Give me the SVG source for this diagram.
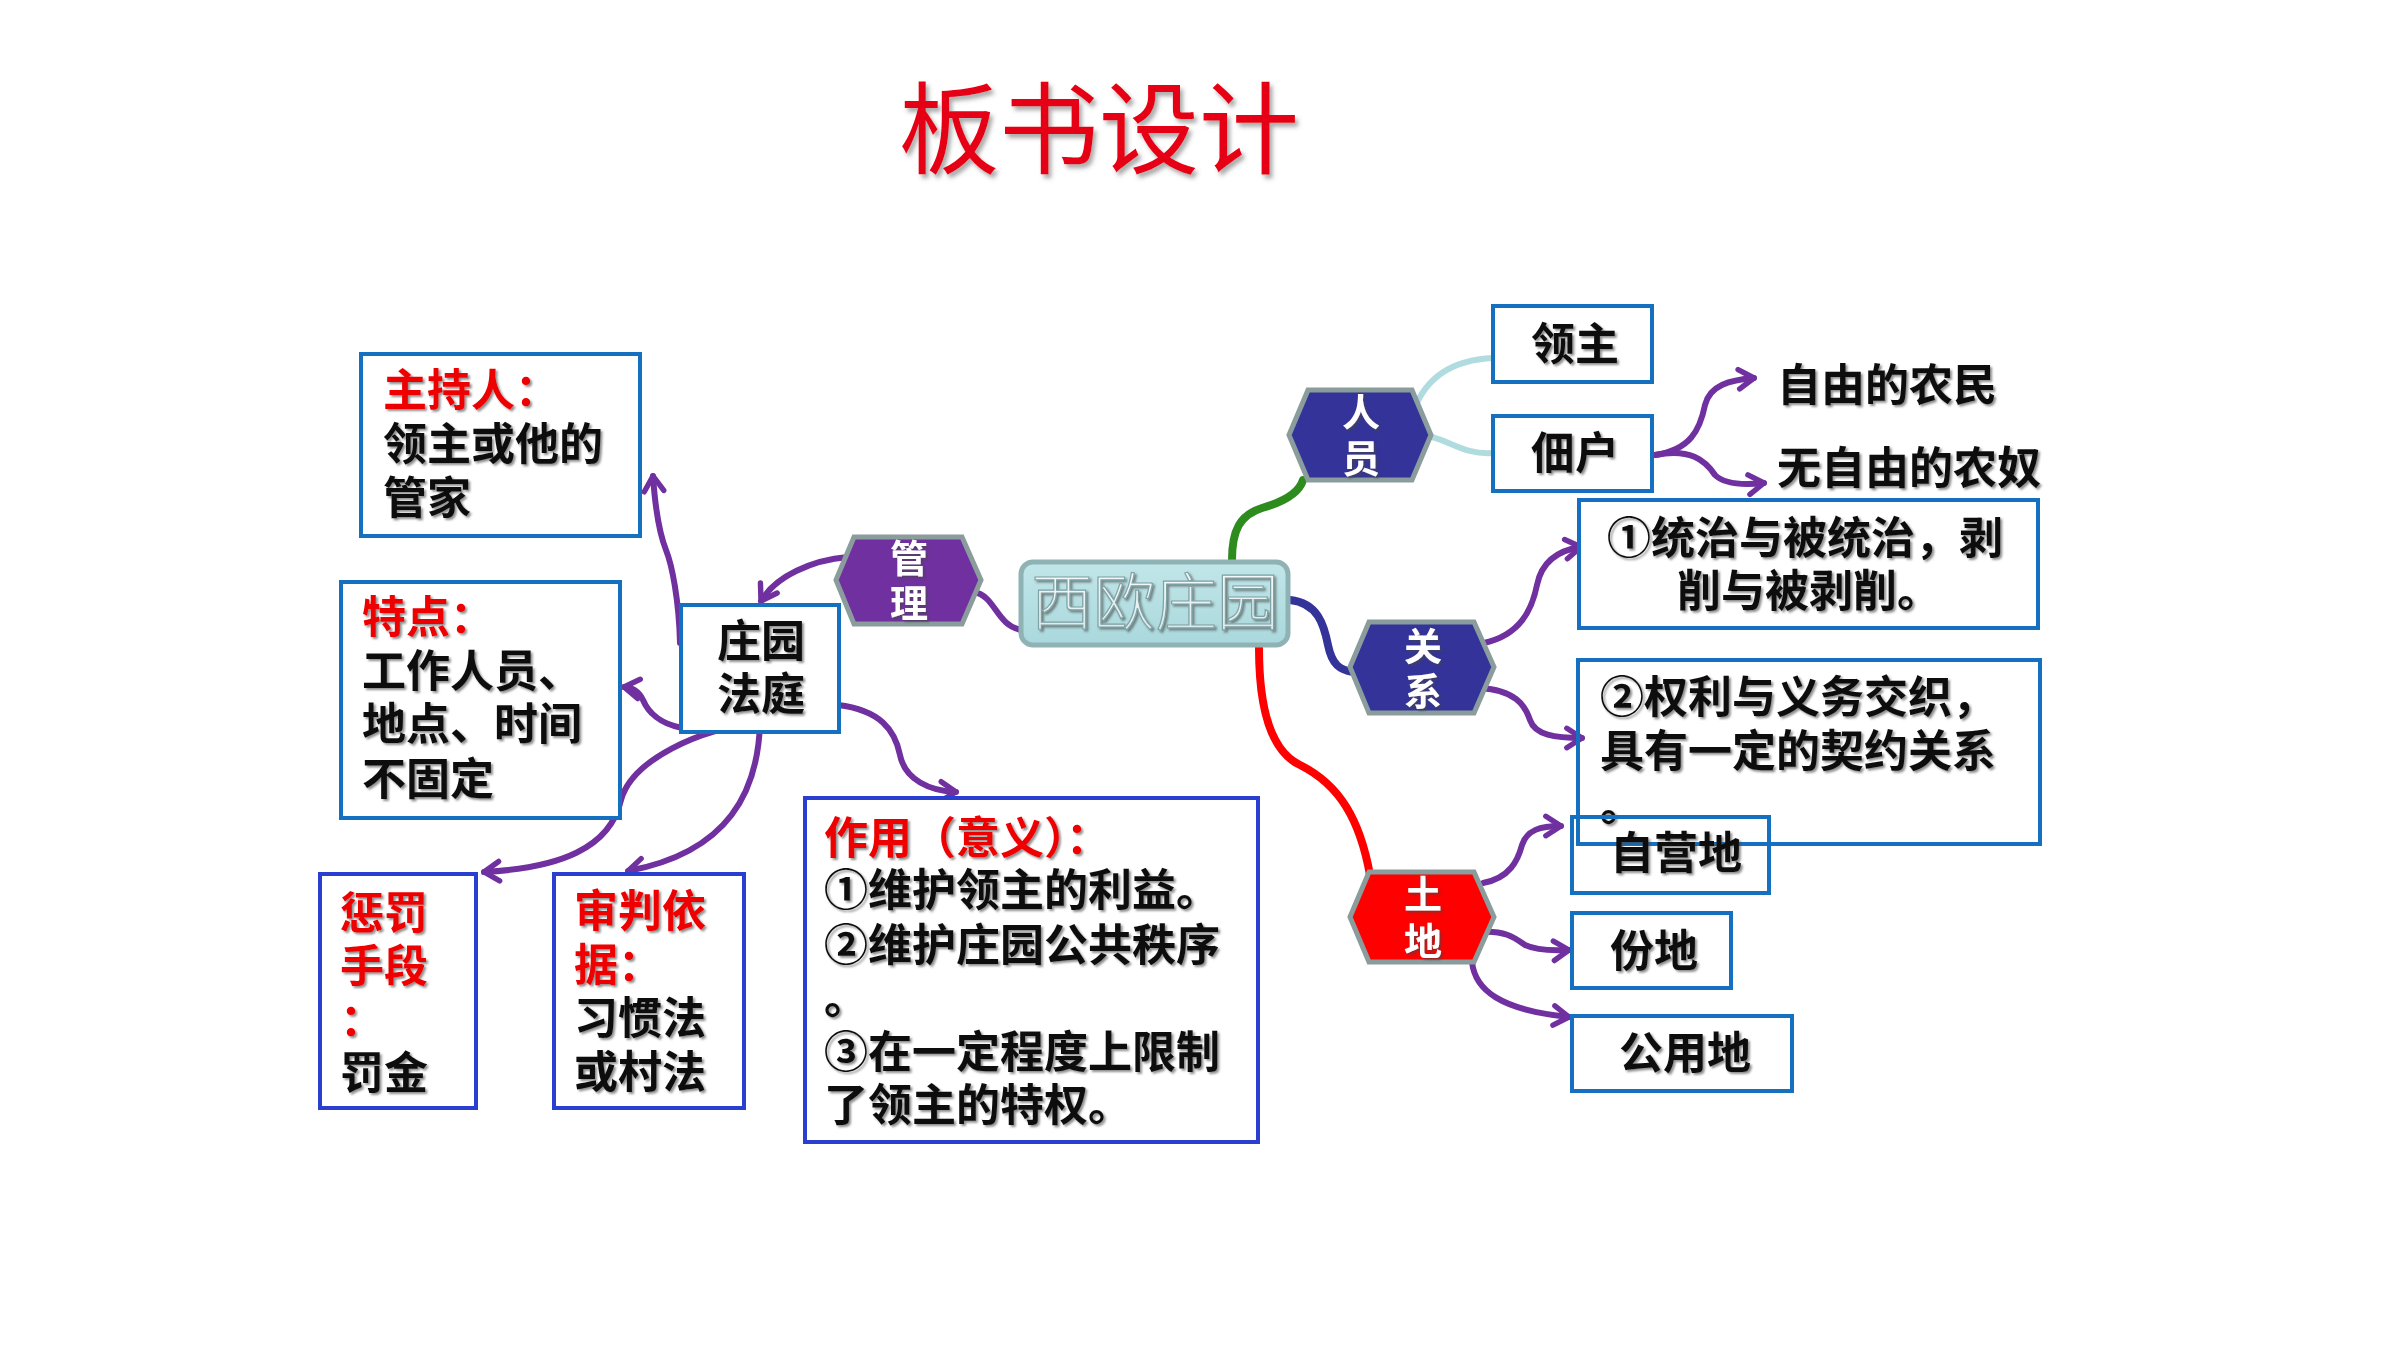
<svg xmlns="http://www.w3.org/2000/svg" width="2400" height="1350" viewBox="0 0 2400 1350">
<defs>
<style>
.t{font-family:"Noto Sans CJK SC","Noto Sans CJK JP",sans-serif;font-size:44px;font-weight:700;fill:#111}
.r{fill:#ee0000}
.box{fill:#fff;stroke:#1670c0;stroke-width:4}
.box2{fill:#fff;stroke:#2a3fd0;stroke-width:4}
.open{fill:none}
.hx{stroke:#8a9c9c;stroke-width:5}
.ht{font-family:"Noto Sans CJK SC",sans-serif;font-size:38px;font-weight:700;fill:#fff;text-anchor:middle}
.c{fill:none;stroke:#7030a0;stroke-width:6;stroke-linecap:round}
.a{marker-end:url(#arr)}
</style>
<filter id="sh" x="-10%" y="-10%" width="130%" height="140%">
<feDropShadow dx="2" dy="2" stdDeviation="1.2" flood-color="#444" flood-opacity="0.6"/>
</filter>
<filter id="tsh" x="-10%" y="-10%" width="130%" height="160%">
<feDropShadow dx="3" dy="4" stdDeviation="2" flood-color="#555" flood-opacity="0.5"/>
</filter>
<marker id="arr" markerUnits="userSpaceOnUse" viewBox="0 0 24 24" markerWidth="26" markerHeight="26" refX="19" refY="12" orient="auto">
<path d="M5,3 L19,12 L5,21" fill="none" stroke="#7030a0" stroke-width="5" stroke-linecap="round" stroke-linejoin="round"/>
</marker>
<linearGradient id="cg" x1="0" y1="0" x2="0" y2="1">
<stop offset="0" stop-color="#c2e6e9"/>
<stop offset="1" stop-color="#a9d8dc"/>
</linearGradient>
<linearGradient id="tg" x1="0" y1="0" x2="0" y2="1">
<stop offset="0" stop-color="#ffffff"/>
<stop offset="1" stop-color="#d6e6e8"/>
</linearGradient>
</defs>
<rect width="2400" height="1350" fill="#fff"/>

<g id="title">
<text x="1099" y="166" text-anchor="middle" font-family="Noto Sans CJK SC, sans-serif" font-size="100" fill="#e60012" filter="url(#tsh)">板书设计</text>
</g>

<g id="connectors">
<path class="c" d="M974,592 C996,596 996,626 1022,630"/>
<path class="c a" d="M848,557 C812,560 776,576 761,601"/>
<path class="c a" d="M680,643 C679,600 672,565 666,550 C658,530 655,505 653,476"/>
<path class="c a" d="M682,728 C660,724 648,712 643,700 C638,690 632,688 624,687"/>
<path class="c a" d="M838,705 C880,710 895,730 900,755 C905,780 930,791 956,792"/>
<path class="c a" d="M760,723 C700,728 632,760 621,800 C610,848 560,868 484,872"/>
<path class="c a" d="M760,723 C758,790 730,852 628,871"/>
<path fill="none" stroke="#2e8b1e" stroke-width="8" stroke-linecap="round" d="M1232,560 C1232,530 1240,515 1262,508 C1290,500 1300,490 1303,480"/>
<path fill="none" stroke="#b0dce0" stroke-width="6" stroke-linecap="round" d="M1414,410 C1425,380 1450,360 1493,358"/>
<path fill="none" stroke="#b0dce0" stroke-width="6" stroke-linecap="round" d="M1421,435 C1450,438 1460,455 1493,453"/>
<path class="c a" d="M1655,455 C1690,450 1700,430 1705,405 C1710,385 1730,380 1754,378"/>
<path class="c a" d="M1655,455 C1690,448 1705,460 1715,475 C1725,485 1745,485 1764,483"/>
<path fill="none" stroke="#333399" stroke-width="8" stroke-linecap="round" d="M1290,600 C1318,603 1324,625 1328,645 C1332,665 1340,670 1353,672"/>
<path class="c a" d="M1484,643 C1520,635 1532,610 1537,585 C1542,560 1560,550 1581,547"/>
<path class="c a" d="M1480,688 C1515,690 1525,705 1530,720 C1535,735 1555,738 1582,738"/>
<path fill="none" stroke="#ff0000" stroke-width="8" stroke-linecap="round" d="M1259,648 C1259,700 1268,750 1300,765 C1340,785 1360,820 1370,875"/>
<path class="c a" d="M1483,883 C1510,878 1518,860 1522,845 C1527,830 1540,826 1561,826"/>
<path class="c a" d="M1480,932 C1505,930 1515,938 1525,945 C1535,950 1550,951 1569,950"/>
<path class="c a" d="M1472,962 C1475,990 1500,1010 1569,1017"/>
</g>

<g id="n-zhuchiren">
<rect class="box" x="361" y="354" width="279" height="182"/>
<text class="t" filter="url(#sh)"><tspan x="383" y="406" class="r">主持人：</tspan><tspan x="383" y="460">领主或他的</tspan><tspan x="383" y="514">管家</tspan></text>
</g>

<g id="n-tedian">
<rect class="box" x="341" y="582" width="279" height="236"/>
<text class="t" filter="url(#sh)"><tspan x="362" y="633" class="r">特点：</tspan><tspan x="362" y="687">工作人员、</tspan><tspan x="362" y="740">地点、时间</tspan><tspan x="362" y="795">不固定</tspan></text>
</g>

<g id="n-fating">
<rect class="box" x="681" y="605" width="158" height="127"/>
<text class="t" filter="url(#sh)" text-anchor="middle"><tspan x="761" y="657">庄园</tspan><tspan x="761" y="710">法庭</tspan></text>
</g>

<g id="n-chengfa">
<rect class="box2" x="320" y="874" width="156" height="234"/>
<text class="t" filter="url(#sh)"><tspan x="340" y="929" class="r">惩罚</tspan><tspan x="340" y="982" class="r">手段</tspan><tspan x="340" y="1036" class="r">：</tspan><tspan x="340" y="1089">罚金</tspan></text>
</g>

<g id="n-shenpan">
<rect class="box2" x="554" y="874" width="190" height="234"/>
<text class="t" filter="url(#sh)"><tspan x="574" y="927" class="r">审判依</tspan><tspan x="574" y="981" class="r">据：</tspan><tspan x="574" y="1034">习惯法</tspan><tspan x="574" y="1088">或村法</tspan></text>
</g>

<g id="n-zuoyong">
<rect class="box2" x="805" y="798" width="453" height="344"/>
<text class="t" filter="url(#sh)"><tspan x="824" y="854" class="r">作用（意义）：</tspan><tspan x="824" y="906">①维护领主的利益。</tspan><tspan x="824" y="961">②维护庄园公共秩序</tspan><tspan x="824" y="1014">。</tspan><tspan x="824" y="1068">③在一定程度上限制</tspan><tspan x="824" y="1121">了领主的特权。</tspan></text>
</g>

<g id="n-guanli">
<polygon class="hx" fill="#7030a0" points="836,580 854,537 962,537 981,580 962,624 854,624"/>
<text class="ht" filter="url(#sh)"><tspan x="909" y="572">管</tspan><tspan x="909" y="617">理</tspan></text>
</g>

<g id="n-center">
<rect x="1021" y="562" width="267" height="83" rx="12" fill="url(#cg)" stroke="#8fb3b5" stroke-width="5"/>
<text x="1155" y="625" text-anchor="middle" font-family="Noto Sans CJK SC, sans-serif" font-size="62" font-weight="300" fill="url(#tg)" stroke="#7fa2a5" stroke-width="1.2" filter="url(#sh)">西欧庄园</text>
</g>

<g id="n-renyuan">
<polygon class="hx" fill="#333399" points="1289,435 1308,390 1412,390 1431,435 1412,480 1308,480"/>
<text class="ht" filter="url(#sh)"><tspan x="1361" y="426">人</tspan><tspan x="1361" y="472">员</tspan></text>
</g>

<g id="n-guanxi">
<polygon class="hx" fill="#333399" points="1350,667 1369,622 1474,622 1494,667 1474,713 1369,713"/>
<text class="ht" filter="url(#sh)"><tspan x="1423" y="660">关</tspan><tspan x="1423" y="705">系</tspan></text>
</g>

<g id="n-tudi">
<polygon class="hx" fill="#ff0000" points="1350,917 1369,872 1474,872 1494,917 1474,962 1369,962"/>
<text class="ht" filter="url(#sh)"><tspan x="1423" y="908">土</tspan><tspan x="1423" y="955">地</tspan></text>
</g>

<g id="n-lingzhu">
<rect class="box" x="1493" y="306" width="159" height="76"/>
<text class="t" x="1575" y="360" text-anchor="middle" filter="url(#sh)">领主</text>
</g>

<g id="n-dianhu">
<rect class="box" x="1493" y="416" width="159" height="75"/>
<text class="t" x="1575" y="469" text-anchor="middle" filter="url(#sh)">佃户</text>
</g>

<g id="n-ziyou">
<text class="t" x="1777" y="401" filter="url(#sh)">自由的农民</text>
</g>

<g id="n-nongnu">
<text class="t" x="1777" y="484" filter="url(#sh)">无自由的农奴</text>
</g>

<g id="n-rel1">
<rect class="box" x="1579" y="500" width="459" height="128"/>
<text class="t" filter="url(#sh)"><tspan x="1607" y="554">①统治与被统治，剥</tspan><tspan x="1677" y="607">削与被剥削。</tspan></text>
</g>

<g id="n-rel2">
<rect class="box open" x="1578" y="660" width="462" height="184"/>
<text class="t" filter="url(#sh)"><tspan x="1600" y="713">②权利与义务交织，</tspan><tspan x="1600" y="767">具有一定的契约关系</tspan><tspan x="1600" y="821">。</tspan></text>
</g>

<g id="n-ziying">
<rect class="box open" x="1572" y="817" width="197" height="76"/>
<text class="t" x="1610" y="869" filter="url(#sh)">自营地</text>
</g>

<g id="n-fendi">
<rect class="box" x="1572" y="913" width="159" height="75"/>
<text class="t" x="1610" y="967" filter="url(#sh)">份地</text>
</g>

<g id="n-gongyong">
<rect class="box" x="1572" y="1016" width="220" height="75"/>
<text class="t" x="1619" y="1069" filter="url(#sh)">公用地</text>
</g>
</svg>
